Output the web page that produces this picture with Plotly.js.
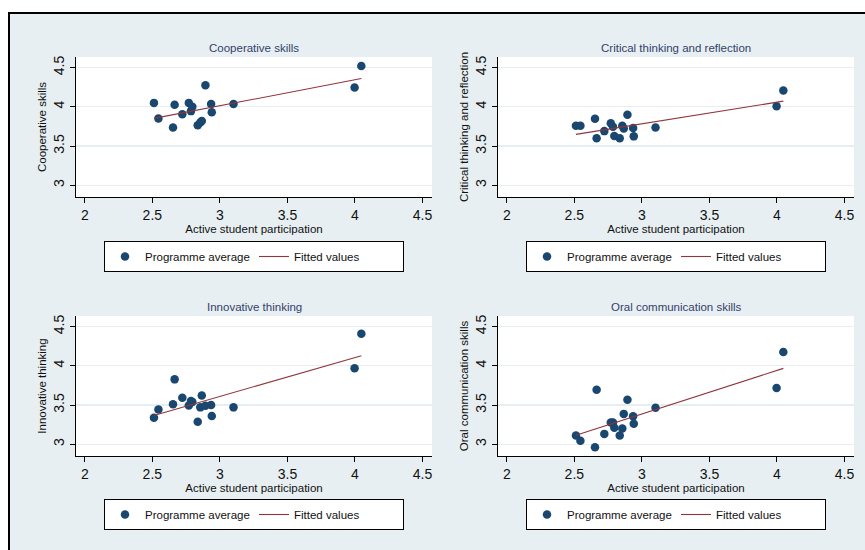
<!DOCTYPE html>
<html>
<head>
<meta charset="utf-8">
<script src="https://cdn.plot.ly/plotly-3.0.1.min.js"></script>
<style>html,body{margin:0;padding:0;background:#fff;}#chart{width:865px;height:550px;}</style>
</head>
<body>
<div id="chart"></div>
<script>
// Active student participation (x), same programmes in every panel
const participation = [2.512, 2.545, 2.653, 2.665, 2.722, 2.770, 2.786, 2.796, 2.836, 2.855, 2.866, 2.893, 2.935, 2.940, 3.101, 3.997, 4.047];

const cooperative = [4.05, 3.85, 3.735, 4.025, 3.905, 4.05, 3.945, 4.00, 3.765, 3.80, 3.82, 4.275, 4.035, 3.93, 4.035, 4.245, 4.52];
const critical    = [3.758, 3.758, 3.847, 3.600, 3.690, 3.790, 3.746, 3.627, 3.600, 3.758, 3.722, 3.898, 3.729, 3.623, 3.737, 4.008, 4.208];
const innovative  = [3.337, 3.443, 3.511, 3.827, 3.593, 3.494, 3.550, 3.540, 3.286, 3.470, 3.620, 3.490, 3.500, 3.360, 3.470, 3.970, 4.410];
const oral        = [3.111, 3.043, 2.962, 3.695, 3.132, 3.277, 3.277, 3.210, 3.111, 3.200, 3.387, 3.567, 3.356, 3.262, 3.464, 3.716, 4.176];

// Fitted values (read at the ends of each fitted line)
const fitX = [2.512, 4.047];
const fitCooperative = [3.852, 4.360];
const fitCritical    = [3.648, 4.072];
const fitInnovative  = [3.367, 4.129];
const fitOral        = [3.115, 3.967];

const panelTitles = ["Cooperative skills", "Critical thinking and reflection", "Innovative thinking", "Oral communication skills"];
const yTitles = ["Cooperative skills", "Critical thinking and reflection", "Innovative thinking", "Oral communication skills"];
const xTitle = "Active student participation";
const seriesNames = ["Programme average", "Fitted values"];
const xTicks = [2, 2.5, 3, 3.5, 4, 4.5];
const yTicks = [3, 3.5, 4, 4.5];

const W = 865, H = 550;
const FONT = "Liberation Sans, Arial, sans-serif";
const MARKER = "#1a476f";
const LINE = "#90353b";

// panel geometry in pixels
const panels = [
  {x0: 76, x1: 432, y0: 57, y1: 197, ys: cooperative, fit: fitCooperative, legTop: 241},
  {x0: 498, x1: 854, y0: 57, y1: 197, ys: critical, fit: fitCritical, legTop: 241},
  {x0: 76, x1: 432, y0: 316, y1: 456, ys: innovative, fit: fitInnovative, legTop: 499},
  {x0: 498, x1: 854, y0: 316, y1: 456, ys: oral, fit: fitOral, legTop: 499}
];

const data = [];
const layout = {
  width: W, height: H,
  margin: {l: 0, r: 0, t: 0, b: 0},
  paper_bgcolor: "#e8eff2",
  font: {family: FONT, color: "#111", size: 11},
  showlegend: true,
  annotations: [],
  shapes: []
};

panels.forEach((p, i) => {
  const n = i + 1;
  const xa = n === 1 ? "x" : "x" + n;
  const ya = n === 1 ? "y" : "y" + n;
  const leg = n === 1 ? "legend" : "legend" + n;
  data.push({
    type: "scatter", mode: "markers", x: participation, y: p.ys,
    xaxis: xa, yaxis: ya, name: seriesNames[0], legend: leg,
    marker: {color: MARKER, size: 8.5, line: {width: 0}}
  });
  data.push({
    type: "scatter", mode: "lines", x: fitX, y: p.fit,
    xaxis: xa, yaxis: ya, name: seriesNames[1], legend: leg,
    line: {color: LINE, width: 1.1}
  });
  const xk = n === 1 ? "xaxis" : "xaxis" + n;
  const yk = n === 1 ? "yaxis" : "yaxis" + n;
  layout[xk] = {
    domain: [p.x0 / W, p.x1 / W], anchor: ya,
    range: [1.935, 4.57], tickvals: xTicks, ticktext: xTicks.map(String),
    showgrid: false, zeroline: false, showline: true, linecolor: "#000", linewidth: 1,
    ticks: "outside", ticklen: 5, tickcolor: "#000", tickwidth: 1,
    tickfont: {family: FONT, size: 14, color: "#111"},
    title: {text: xTitle, font: {family: FONT, size: 11.5, color: "#111"}, standoff: 0},
    fixedrange: true
  };
  layout[yk] = {
    domain: [1 - p.y1 / H, 1 - p.y0 / H], anchor: xa,
    range: [2.85, 4.635], tickvals: yTicks, ticktext: yTicks.map(String),
    showgrid: true, gridcolor: "#e6eef1", gridwidth: 1.2,
    zeroline: false, showline: true, linecolor: "#000", linewidth: 1,
    ticks: "outside", ticklen: 5, tickcolor: "#000", tickwidth: 1, tickangle: -90,
    tickfont: {family: FONT, size: 14, color: "#111"},
    title: {text: yTitles[i], font: {family: FONT, size: 11.5, color: "#111"}, standoff: 2},
    fixedrange: true
  };
  layout[leg] = {
    x: (p.x0 + p.x1) / 2 / W, xanchor: "center",
    y: 1 - p.legTop / H, yanchor: "top",
    orientation: "h", bgcolor: "#fff", bordercolor: "#000", borderwidth: 1,
    font: {family: FONT, size: 11.5, color: "#111"},
    entrywidth: 104, entrywidthmode: "pixels", itemclick: false, itemdoubleclick: false
  };
  layout.annotations.push({
    xref: "paper", yref: "paper", x: (p.x0 + p.x1) / 2 / W, y: 1 - (p.y0 - 9) / H,
    xanchor: "center", yanchor: "middle", showarrow: false,
    text: panelTitles[i], font: {family: FONT, size: 11.5, color: "#33416a"}
  });
  layout.shapes.push({
    type: "rect", xref: "paper", yref: "paper", layer: "below",
    x0: p.x0 / W, x1: p.x1 / W, y0: 1 - p.y1 / H, y1: 1 - p.y0 / H,
    fillcolor: "#fff", line: {width: 0}
  });
});

// white margin outside the outer frame, and the frame line
layout.shapes.push({type: "rect", xref: "paper", yref: "paper", x0: 0, x1: 1, y0: 1 - 13 / H, y1: 1, fillcolor: "#fff", line: {width: 0}, layer: "above"});
layout.shapes.push({type: "rect", xref: "paper", yref: "paper", x0: 0, x1: 8.5 / W, y0: 0, y1: 1, fillcolor: "#fff", line: {width: 0}, layer: "above"});
layout.shapes.push({type: "path", xref: "paper", yref: "paper",
  path: "M " + (9 / W) + " 0 L " + (9 / W) + " " + (1 - 13 / H) + " L 1 " + (1 - 13 / H),
  line: {color: "#000", width: 2}, layer: "above"});

Plotly.newPlot("chart", data, layout, {displayModeBar: false, staticPlot: true});
</script>
</body>
</html>
